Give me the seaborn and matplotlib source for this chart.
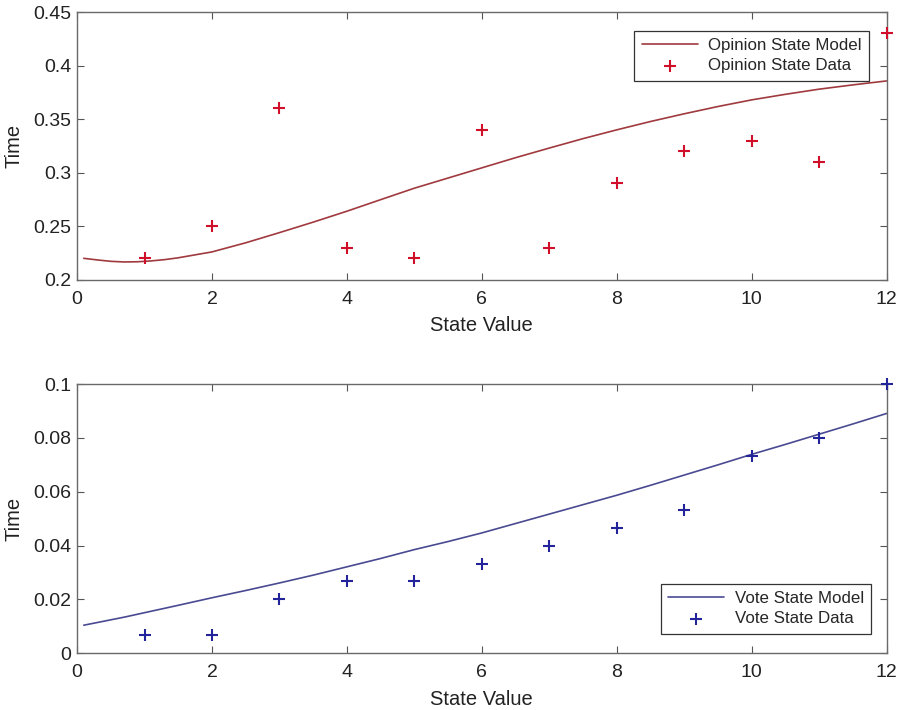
import numpy as np
import pandas as pd
import matplotlib
matplotlib.use("Agg")
import matplotlib.pyplot as plt
import seaborn as sns

# ---- data ----
state_values = [1, 2, 3, 4, 5, 6, 7, 8, 9, 10, 11, 12]
opinion_data = [0.22, 0.25, 0.36, 0.23, 0.22, 0.34, 0.23, 0.29, 0.32, 0.33, 0.31, 0.43]
vote_data = [0.0067, 0.0067, 0.020, 0.0267, 0.0267, 0.0333, 0.040, 0.0467, 0.0533, 0.0733, 0.080, 0.100]

model_x = [0.1, 0.3, 0.5, 0.7, 0.9, 1.1, 1.3, 1.5, 2.0, 2.5, 3.0, 3.5, 4.0, 4.5, 5.0, 5.5, 6.0,
           6.5, 7.0, 7.5, 8.0, 8.5, 9.0, 9.5, 10.0, 10.5, 11.0, 11.5, 12.0]
opinion_model = [0.2200, 0.2185, 0.2172, 0.2166, 0.2168, 0.2176, 0.2188, 0.2205, 0.2260, 0.2345,
                 0.2440, 0.2538, 0.2640, 0.2748, 0.2855, 0.2950, 0.3045, 0.3140, 0.3230, 0.3318,
                 0.3400, 0.3478, 0.3550, 0.3618, 0.3680, 0.3732, 0.3780, 0.3820, 0.3857]
vote_model = [0.0104, 0.0114, 0.0124, 0.0134, 0.0145, 0.0156, 0.0167, 0.0178, 0.0206, 0.0233,
              0.0261, 0.0290, 0.0321, 0.0352, 0.0385, 0.0415, 0.0447, 0.0482, 0.0517, 0.0552,
              0.0587, 0.0624, 0.0662, 0.0700, 0.0739, 0.0776, 0.0814, 0.0852, 0.0891]

opinion_ticks = [0.2, 0.25, 0.3, 0.35, 0.4, 0.45]
opinion_ticklabels = ["0.2", "0.25", "0.3", "0.35", "0.4", "0.45"]
vote_ticks = [0, 0.02, 0.04, 0.06, 0.08, 0.1]
vote_ticklabels = ["0", "0.02", "0.04", "0.06", "0.08", "0.1"]
x_ticks = [0, 2, 4, 6, 8, 10, 12]

sns.set_theme(style="white")
plt.rcParams['font.family'] = ['Liberation Sans', 'DejaVu Sans']

fig = plt.figure(figsize=(9.02, 7.10), dpi=100)
ax1 = fig.add_axes([0.0854, 0.606, 0.8976, 0.377])
ax2 = fig.add_axes([0.0854, 0.080, 0.8976, 0.379])

def style_axis(ax, yticks, ylabels, ylim):
    ax.set_xlim(0, 12)
    ax.set_ylim(*ylim)
    ax.set_xticks(x_ticks)
    ax.set_xticklabels([str(t) for t in x_ticks])
    ax.set_yticks(yticks)
    ax.set_yticklabels(ylabels)
    ax.tick_params(direction='in', length=5, width=0.8, colors='#555555',
                   labelcolor='#222222', labelsize=14, top=True, right=True,
                   bottom=True, left=True)
    ax.tick_params(axis='x', pad=8)
    ax.tick_params(axis='y', pad=4)
    for s in ax.spines.values():
        s.set_color('#6a6a6a')
        s.set_linewidth(1.0)
    ax.set_xlabel("State Value", fontsize=14.5, color='#222222', labelpad=6)
    ax.set_ylabel("Time", fontsize=14.5, color='#222222', labelpad=7)

top_line = pd.DataFrame({"x": model_x, "y": opinion_model})
top_pts = pd.DataFrame({"x": state_values, "y": opinion_data})
sns.lineplot(data=top_line, x="x", y="y", ax=ax1, color='#a03a3e', linewidth=1.2,
             label="Opinion State Model")
sns.scatterplot(data=top_pts, x="x", y="y", ax=ax1, marker='+', s=85, color='#d0102a',
                linewidth=1.5, label="Opinion State Data", clip_on=False, zorder=5)
style_axis(ax1, opinion_ticks, opinion_ticklabels, (0.2, 0.45))
leg1 = ax1.legend(loc='upper right', bbox_to_anchor=(0.9885, 0.9625), fontsize=12.2,
                  frameon=True, fancybox=False, edgecolor='#333333', framealpha=1,
                  borderpad=0.45, handlelength=3.3, labelspacing=0.3, handletextpad=0.6)
leg1.get_frame().set_linewidth(0.9)

bot_line = pd.DataFrame({"x": model_x, "y": vote_model})
bot_pts = pd.DataFrame({"x": state_values, "y": vote_data})
sns.lineplot(data=bot_line, x="x", y="y", ax=ax2, color='#4a4a92', linewidth=1.2,
             label="Vote State Model")
sns.scatterplot(data=bot_pts, x="x", y="y", ax=ax2, marker='+', s=85, color='#24249a',
                linewidth=1.5, label="Vote State Data", clip_on=False, zorder=5)
style_axis(ax2, vote_ticks, vote_ticklabels, (0, 0.1))
leg2 = ax2.legend(loc='lower right', bbox_to_anchor=(0.9915, 0.04), fontsize=12.2,
                  frameon=True, fancybox=False, edgecolor='#333333', framealpha=1,
                  borderpad=0.45, handlelength=3.3, labelspacing=0.3, handletextpad=0.6)
leg2.get_frame().set_linewidth(0.9)

fig.savefig("out.png", dpi=100)
